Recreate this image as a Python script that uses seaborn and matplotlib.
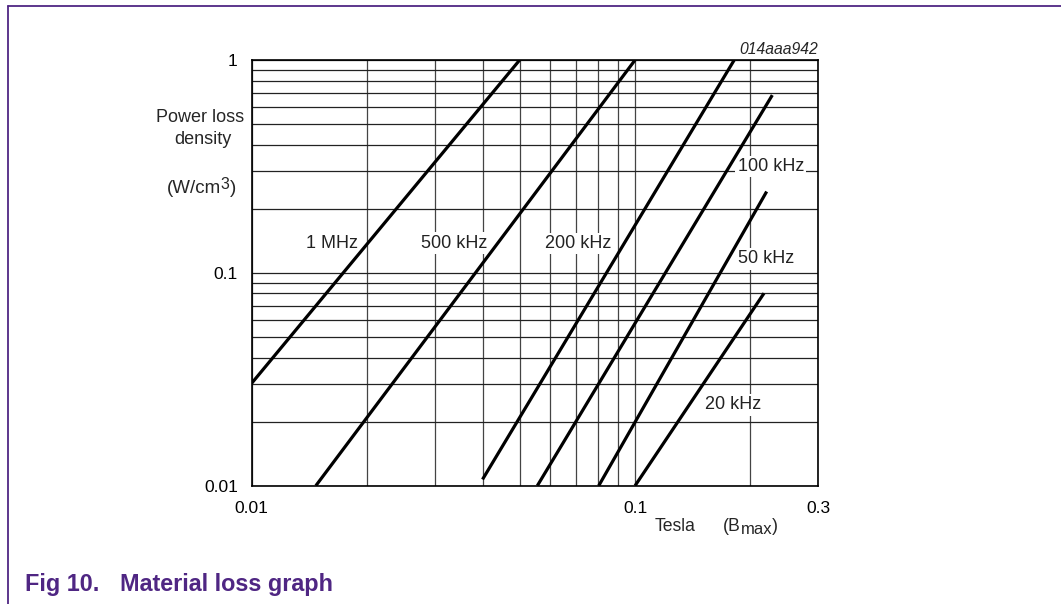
import numpy as np
import pandas as pd
import matplotlib
matplotlib.use("Agg")
import matplotlib.pyplot as plt
from matplotlib.lines import Line2D
from matplotlib.ticker import LogLocator, FixedLocator, FixedFormatter, NullFormatter
import seaborn as sns

# ---- data ----
frequencies = ["1 MHz", "500 kHz", "200 kHz", "100 kHz", "50 kHz", "20 kHz"]
b_start = [0.0100, 0.0147, 0.0400, 0.0556, 0.0804, 0.1000]
p_start = [0.0303, 0.0100, 0.0107, 0.0100, 0.0100, 0.0100]
b_end = [0.0500, 0.1000, 0.1814, 0.2280, 0.2204, 0.2169]
p_end = [1.000, 1.000, 1.000, 0.684, 0.241, 0.0802]

label_b = [0.0162, 0.0337, 0.0710, 0.2258, 0.2195, 0.1798]
label_p = [0.1367, 0.1380, 0.1370, 0.3153, 0.1162, 0.02396]

x_ticks = [0.01, 0.1, 0.3]
x_tick_labels = ["0.01", "0.1", "0.3"]
y_ticks = [0.01, 0.1, 1]
y_tick_labels = ["0.01", "0.1", "1"]

rows = []
for f, b0, p0, b1, p1 in zip(frequencies, b_start, p_start, b_end, p_end):
    rows.append({"freq": f, "B": b0, "P": p0})
    rows.append({"freq": f, "B": b1, "P": p1})
df = pd.DataFrame(rows)

# ---- style ----
sns.set_style("white")
plt.rcParams["font.family"] = ["Liberation Sans", "DejaVu Sans"]

W, H = 1061, 604
fig = plt.figure(figsize=(W / 100, H / 100), dpi=100)
left, right, top, bottom = 251.7, 818.0, 60.0, 485.7
ax = fig.add_axes([left / W, 1 - bottom / H, (right - left) / W, (bottom - top) / H])

ax.set_xscale("log")
ax.set_yscale("log")

sns.lineplot(data=df, x="B", y="P", hue="freq", units="freq", estimator=None,
             palette=["black"] * len(frequencies), legend=False, lw=2.3,
             ax=ax, zorder=4, solid_capstyle="butt")

ax.set_xlim(0.01, 0.3)
ax.set_ylim(0.01, 1)

ax.xaxis.set_major_locator(FixedLocator(x_ticks))
ax.xaxis.set_major_formatter(FixedFormatter(x_tick_labels))
ax.yaxis.set_major_locator(FixedLocator(y_ticks))
ax.yaxis.set_major_formatter(FixedFormatter(y_tick_labels))
ax.xaxis.set_minor_locator(LogLocator(base=10, subs=np.arange(2, 10)))
ax.yaxis.set_minor_locator(LogLocator(base=10, subs=np.arange(2, 10)))
ax.xaxis.set_minor_formatter(NullFormatter())
ax.yaxis.set_minor_formatter(NullFormatter())

ax.tick_params(axis="both", which="both", length=0, labelsize=12.5, colors="black")
ax.tick_params(axis="x", pad=11)
ax.tick_params(axis="y", pad=10)

ax.set_axisbelow(True)
ax.grid(True, which="both", axis="y", color="#222222", lw=0.9)
ax.grid(True, which="both", axis="x", color="#444444", lw=0.9)

for s in ax.spines.values():
    s.set_visible(True)
    s.set_color("black")
    s.set_linewidth(1.2)
    s.set_zorder(5)

ax.set_xlabel("")
ax.set_ylabel("")

for txt, bx, py in zip(frequencies, label_b, label_p):
    ax.text(bx, py, txt, ha="center", va="center", fontsize=13, color="#222222",
            zorder=3, bbox=dict(facecolor="white", edgecolor="none", pad=1.5))

# ---- annotation texts ----
def fx(px):
    return px / W

def fy(py):
    return 1 - py / H

renderer = fig.canvas.get_renderer()

def rich_text(x_left, baseline, parts):
    """parts: list of (text, fontsize, baseline offset in px downward)"""
    x = x_left
    for s, size, dy in parts:
        t = fig.text(fx(x), fy(baseline + dy), s, fontsize=size,
                     ha="left", va="baseline")
        x += t.get_window_extent(renderer).width

fig.text(fx(200), fy(117.5), "Power loss", ha="center", va="center", fontsize=13)
fig.text(fx(202.5), fy(140), "density", ha="center", va="center", fontsize=13)
rich_text(166.7, 193, [("(W/cm", 13.5, 0), ("3", 11.5, -4), (")", 13.5, 0)])

fig.text(fx(655), fy(531), "Tesla", ha="left", va="baseline", fontsize=12.7)
rich_text(722.7, 531, [("(B", 12.7, 0), ("max", 12.0, 2.7), (")", 12.7, 0)])

fig.text(fx(818), fy(49), "014aaa942", ha="right", va="center", fontsize=11.3,
         style="italic")

purple = "#4F2683"
fig.text(fx(25), fy(585), "Fig 10.", ha="left", va="center", fontsize=16.8,
         fontweight="bold", color=purple)
fig.text(fx(119.5), fy(585), "Material loss graph", ha="left", va="center",
         fontsize=16.8, fontweight="bold", color=purple)

fig.add_artist(Line2D([fx(7.5), 1.0], [fy(6), fy(6)], color=purple, lw=1.3))
fig.add_artist(Line2D([fx(8), fx(8)], [fy(6), 0.0], color=purple, lw=1.3))

fig.savefig("out.png", dpi=100)
